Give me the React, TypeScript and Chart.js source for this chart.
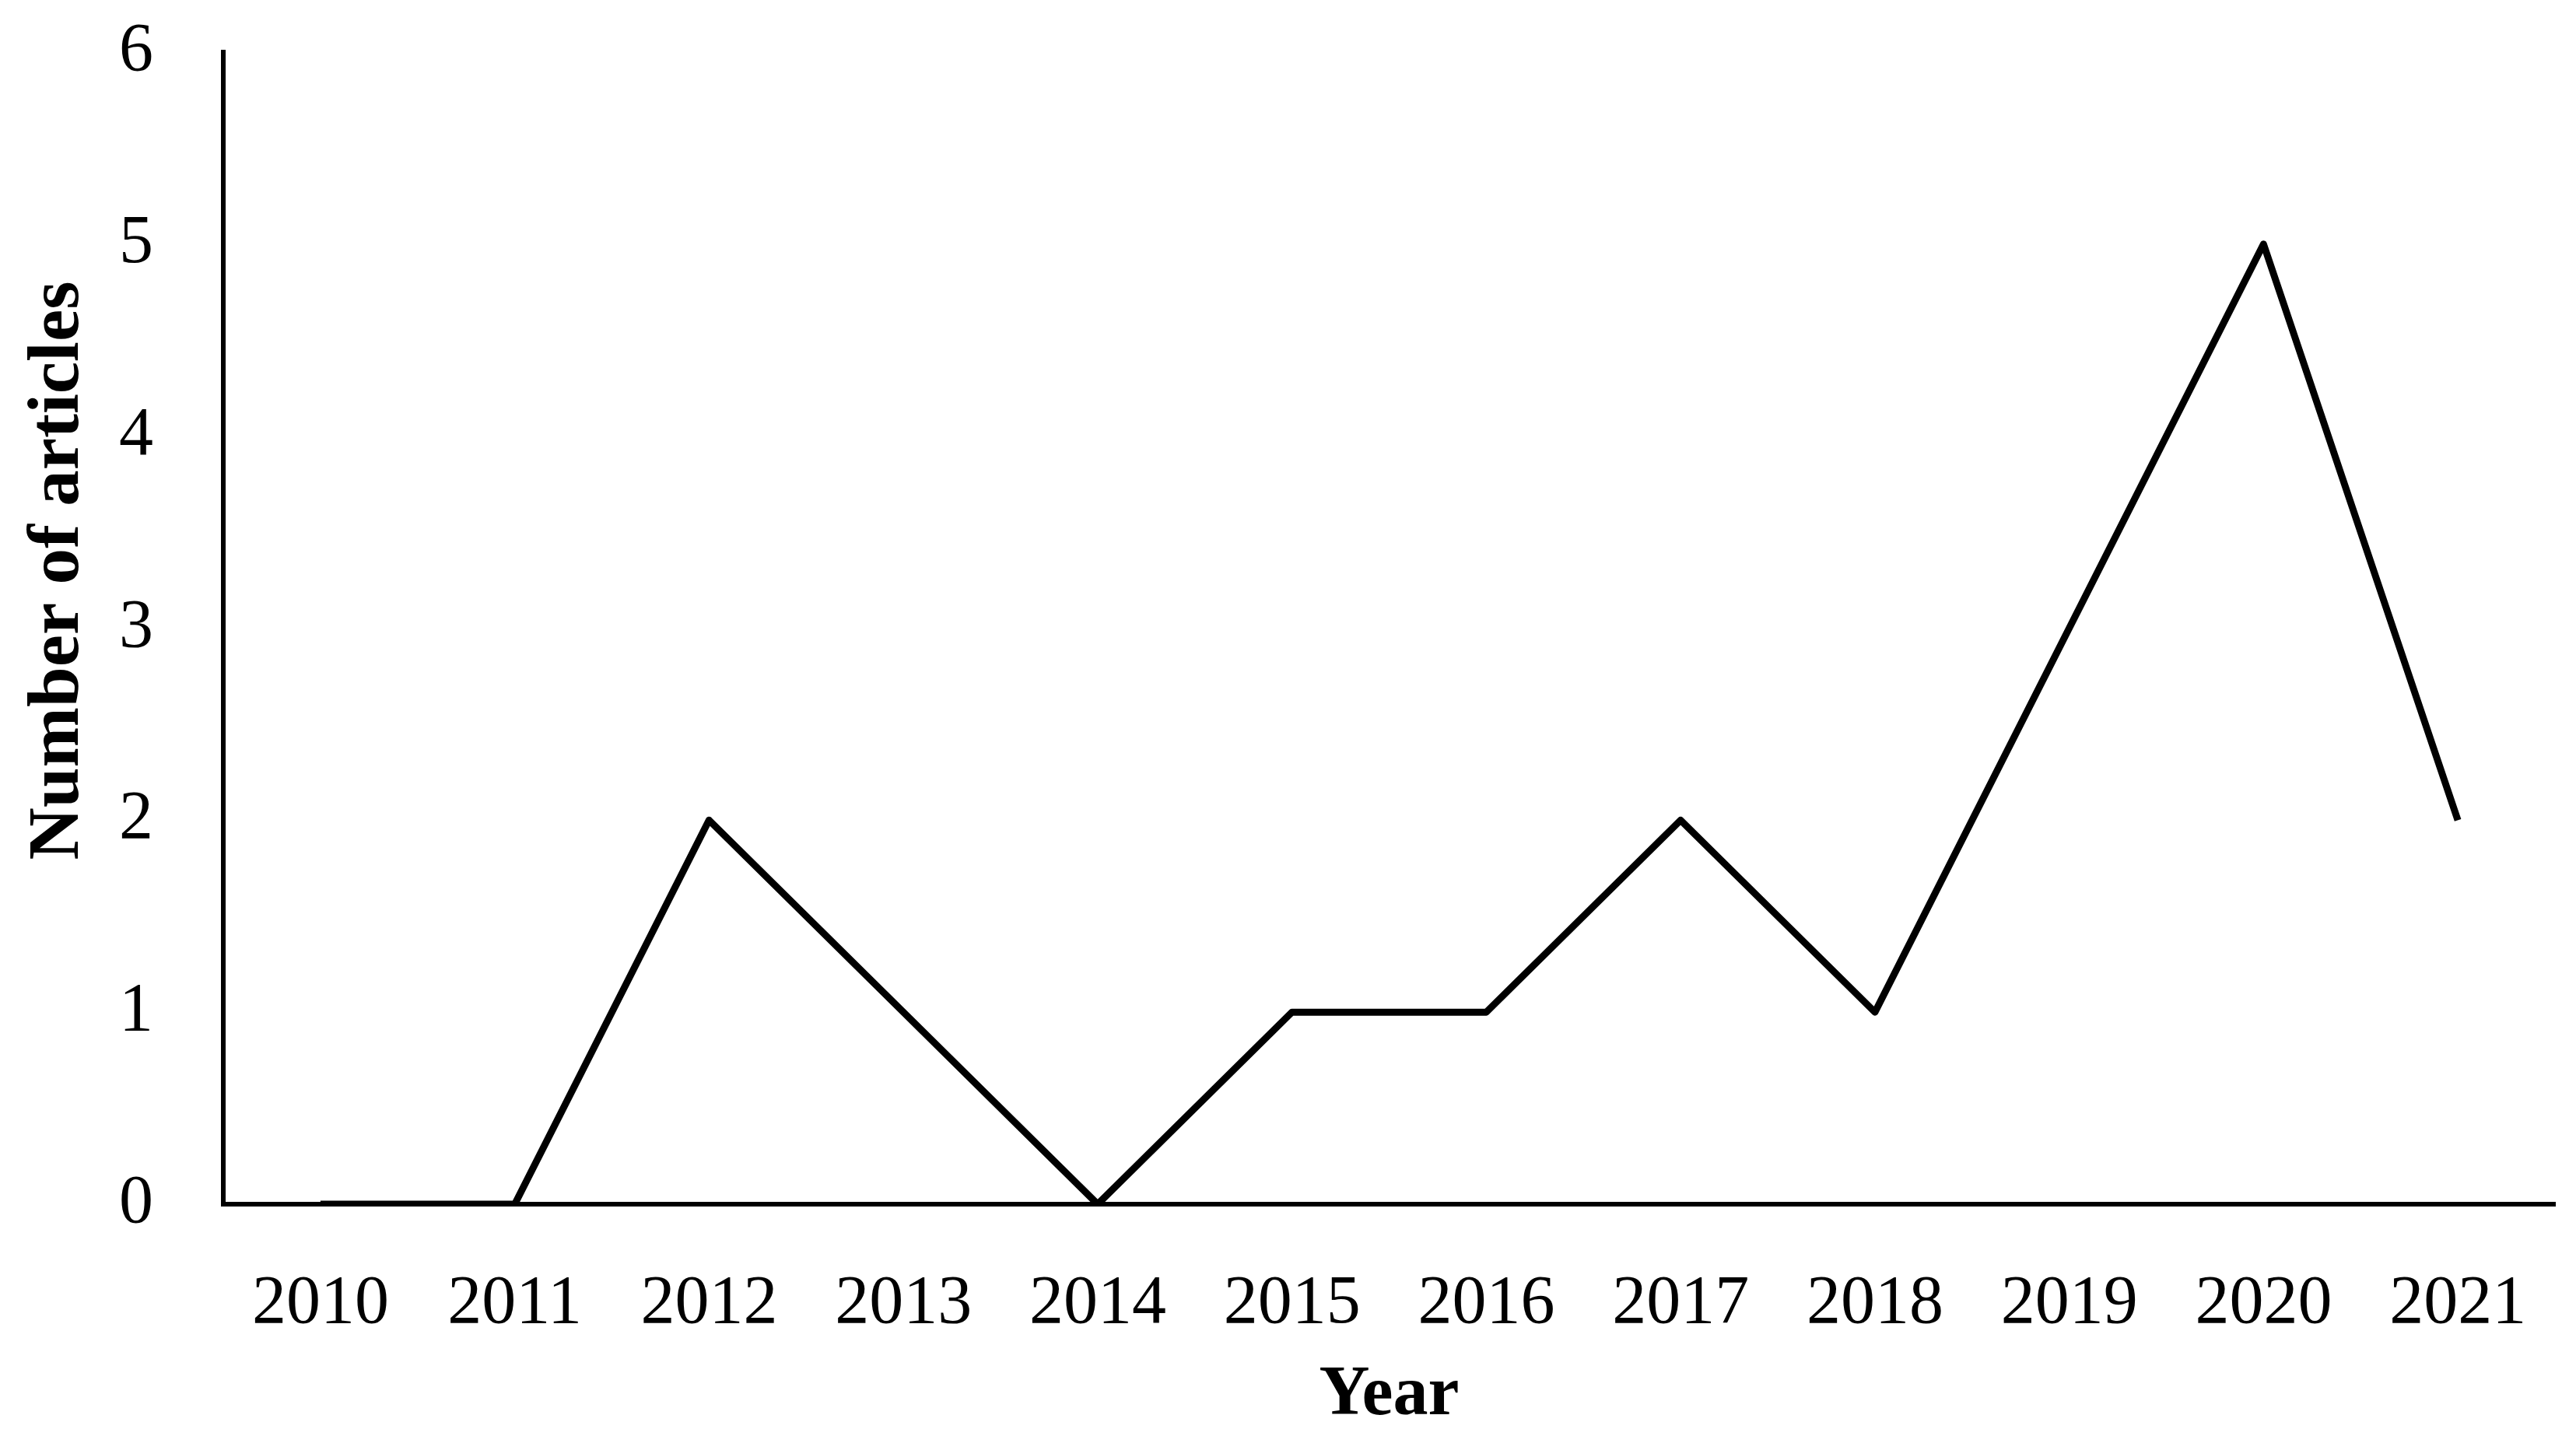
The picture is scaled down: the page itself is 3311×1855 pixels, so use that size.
import React, { useEffect, useRef } from "react";
import { Chart, registerables } from "chart.js";

Chart.register(...registerables);

const years = ["2010", "2011", "2012", "2013", "2014", "2015", "2016", "2017", "2018", "2019", "2020", "2021"];
const articles = [0, 0, 2, 1, 0, 1, 1, 2, 1, 3, 5, 2];
const yTicks = [0, 1, 2, 3, 4, 5, 6];
const xTitle = "Year";
const yTitle = "Number of articles";

const FONT = "'Liberation Serif', 'Times New Roman', serif";

const yTitlePlugin = {
  id: "yTitleOffset",
  afterDraw(chart: any) {
    const ctx = chart.ctx;
    const area = chart.chartArea;
    const cy = (area.top + area.bottom) / 2 - 74;
    ctx.save();
    ctx.translate(76, cy);
    ctx.rotate(-Math.PI / 2);
    ctx.fillStyle = "#000";
    ctx.font = `bold 93px ${FONT}`;
    ctx.textAlign = "center";
    ctx.textBaseline = "middle";
    ctx.fillText(yTitle, 0, 0);
    ctx.restore();
  },
};

export default function App() {
  const ref = useRef<HTMLCanvasElement | null>(null);
  useEffect(() => {
    if (!ref.current) return;
    const chart = new Chart(ref.current, {
      type: "line",
      data: {
        labels: years,
        datasets: [
          {
            label: yTitle,
            data: articles,
            borderColor: "#000",
            borderWidth: 9,
            pointRadius: 0,
            tension: 0,
            borderJoinStyle: "round",
            fill: false,
          },
        ],
      },
      options: {
        responsive: true,
        maintainAspectRatio: false,
        animation: false,
        layout: { padding: { top: 67, right: 27, left: 0, bottom: 0 } },
        plugins: { legend: { display: false }, tooltip: { enabled: false } },
        scales: {
          x: {
            offset: true,
            grid: { display: false, drawTicks: false },
            border: { display: true, color: "#000", width: 6 },
            ticks: { color: "#000", font: { family: FONT, size: 88 }, padding: 76, maxRotation: 0, autoSkip: false },
            title: { display: true, text: xTitle, color: "#000", font: { family: FONT, size: 90, weight: "bold" }, padding: { top: 0, bottom: 6 } },
            afterFit: (s: any) => { s.height = 307; s.paddingLeft = 0; s.paddingRight = 0; },
          },
          y: {
            min: 0,
            max: 6,
            afterBuildTicks: (s: any) => { s.ticks = yTicks.map((v) => ({ value: v })); },
            grid: { display: false, drawTicks: false },
            border: { display: true, color: "#000", width: 6 },
            ticks: { color: "#000", font: { family: FONT, size: 88 }, padding: 90 },
            title: { display: false, text: yTitle },
            afterFit: (s: any) => { s.width = 287; s.paddingTop = 0; s.paddingBottom = 0; },
          },
        },
      },
      plugins: [yTitlePlugin],
    });
    return () => chart.destroy();
  }, []);
  return (
    <div style={{ position: "fixed", left: 0, top: 0, width: "100vw", height: "100vh", background: "#fff" }}>
      <canvas ref={ref} />
    </div>
  );
}
